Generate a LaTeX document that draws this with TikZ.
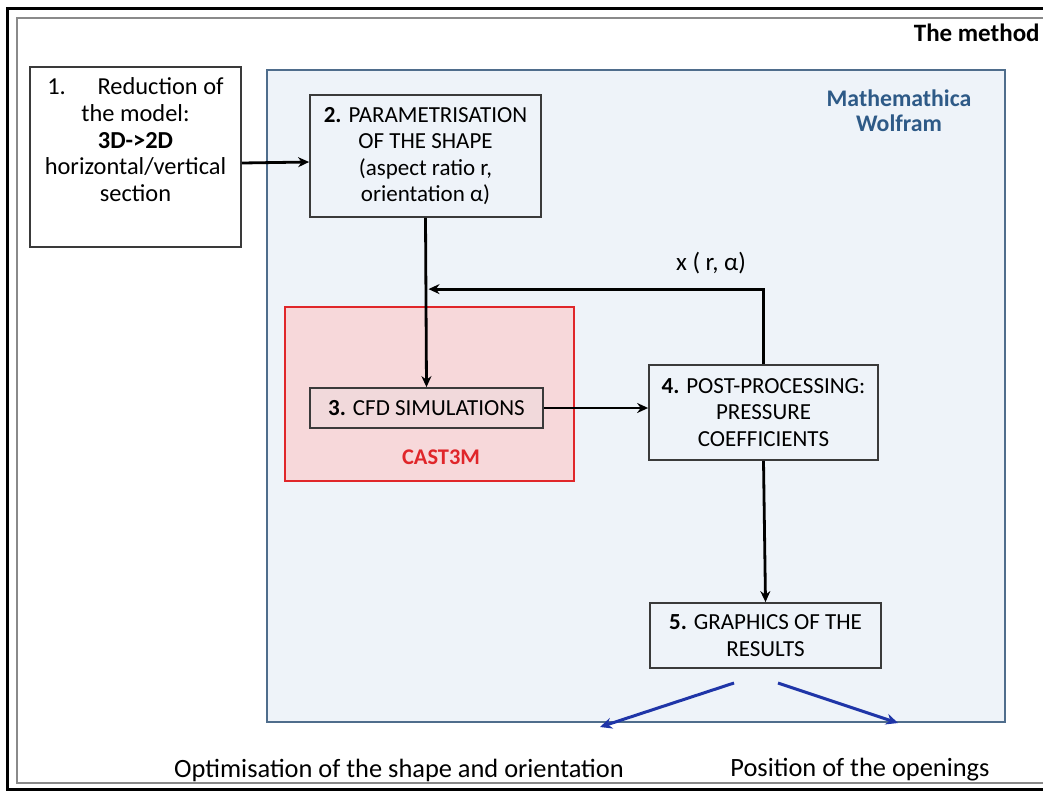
\documentclass[tikz,border=0pt]{standalone}
\usepackage{fontspec}
\setmainfont{Carlito}
\usepackage{xcolor}
\usetikzlibrary{arrows.meta,positioning,calc}
\definecolor{panelbg}{HTML}{EEF3F9}
\definecolor{panelline}{HTML}{4F6D8C}
\definecolor{boxline}{HTML}{3A3A3A}
\definecolor{castbg}{HTML}{F7D8DA}
\definecolor{castline}{HTML}{E0262A}
\definecolor{simbg}{HTML}{F1D9DB}
\definecolor{wolfram}{HTML}{2E5A87}
\definecolor{outblue}{HTML}{1F35A8}
\definecolor{framegray}{HTML}{8A8A8A}
\tikzset{
  stepbox/.style={draw=boxline, line width=0.9pt, align=center, inner sep=2pt, font=\fontsize{11.5}{13.25}\selectfont},
  flow/.style={draw=black, line width=1.4pt, -{Stealth[length=5.5pt,width=5pt]}},
  outarrow/.style={draw=outblue, line width=1.5pt, -{Stealth[length=6pt,width=5.5pt]}},
  lab/.style={font=\fontsize{11.5}{13.5}\selectfont, align=center},
  biglab/.style={font=\fontsize{13.2}{15}\selectfont},
}

\begin{document}
\begin{tikzpicture}[x=0.5pt,y=-0.5pt]
\useasboundingbox (0,0) rectangle (1043,798);
\clip (0,0) rectangle (1043,798);
\fill[white] (0,0) rectangle (1043,798);
% double frame
\draw[line width=1.5pt] (7,8) rectangle (1060,789);
\draw[framegray, line width=1pt] (17,18) rectangle (1050,783);
\node[lab, anchor=east, inner sep=0pt, font=\bfseries\fontsize{12.5}{14}\selectfont] (method) at (1040,33) {The method};

% Mathematica panel
\node[draw=panelline, fill=panelbg, line width=1pt, minimum width=369pt, minimum height=326pt] (math) at (636,396) {};
\node[lab, text=wolfram, font=\bfseries\fontsize{11.9}{12.5}\selectfont] (mathlab) at (899,111) {Mathemathica\\Wolfram};

% CAST3M
\node[draw=castline, fill=castbg, line width=1.3pt, minimum width=144.5pt, minimum height=87pt] (cast) at (429.5,394) {};
\node[lab, text=castline, font=\bfseries\fontsize{11.2}{13.5}\selectfont] (castlab) at (441,457) {CAST3M};

% steps
\node[stepbox, fill=white, minimum width=105.5pt, minimum height=90pt, font=\fontsize{12.2}{13.3}\selectfont] (box1) at (135.5,157)
  {1.\hspace{1.3em}Reduction of\\the model:\\\textbf{3D->2D}\\horizontal/vertical\\section\\[4pt]~};
\node[stepbox, fill=panelbg, minimum width=115.5pt, minimum height=61pt] (box2) at (425.5,156)
  {\textbf{2.} PARAMETRISATION\\OF THE SHAPE\\(aspect ratio r,\\orientation α)};
\node[stepbox, fill=simbg, minimum width=116.5pt, minimum height=20pt] (box3) at (426.5,408)
  {\textbf{3.} CFD SIMULATIONS};
\node[stepbox, fill=panelbg, minimum width=114.5pt, minimum height=47.5pt] (box4) at (763.5,412.5)
  {\textbf{4.} POST-PROCESSING:\\PRESSURE\\COEFFICIENTS};
\node[stepbox, fill=panelbg, minimum width=115.5pt, minimum height=32.5pt] (box5) at (765.5,635.5)
  {\textbf{5.} GRAPHICS OF THE\\RESULTS};

% connectors
\draw[flow] ([yshift=-3pt]box1.east) -- ([yshift=-3pt]box2.west);
\draw[flow] (box2.south) -- (box3.north);
\draw[flow] (box3.east) -- (box3.east -| box4.west);
\path (box4.north) ++(0,-75) coordinate (fbturn);
\draw[flow, shorten >=1.5pt] (box4.north) -- (fbturn) -- (box2.south |- fbturn);
\node[lab, font=\fontsize{12.5}{14}\selectfont] (xlab) at (711,263) {x ( r, α)};
\draw[flow] (box4.south) -- (box5.north);

% results
\coordinate (res1) at (734,683);
\coordinate (res2) at (778,683);
\coordinate (opt) at (600,727);
\coordinate (pos) at (898,723);
\draw[outarrow] (res1) -- (opt);
\draw[outarrow] (res2) -- (pos);
\node[biglab] (opttext) at (399,770) {Optimisation of the shape and orientation};
\node[biglab] (postext) at (860,770) {Position of the openings};
\end{tikzpicture}
\end{document}
